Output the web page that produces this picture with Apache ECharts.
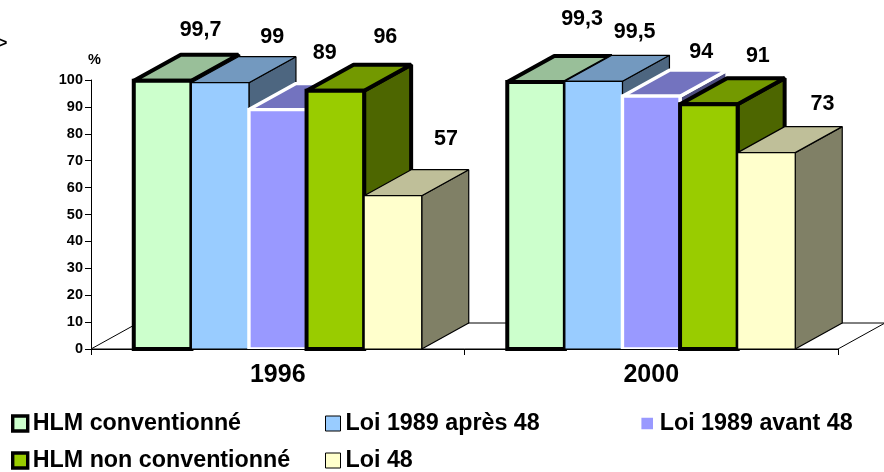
<!DOCTYPE html>
<html>
<head>
<meta charset="utf-8">
<style>html,body{margin:0;padding:0;background:#fff}#c{width:884px;height:472px}</style>
<script src="https://cdn.jsdelivr.net/npm/echarts@6/dist/echarts.min.js"></script>
</head>
<body>
<div id="c"></div>
<script>
const categories = ['1996', '2000'];
const hlmConventionne = [99.7, 99.3];
const loi1989Apres48 = [99, 99.5];
const loi1989Avant48 = [89, 94];
const hlmNonConventionne = [96, 91];
const loi48 = [57, 73];

const seriesStyles = [
  {name: 'HLM conventionné', values: hlmConventionne, front: '#CCFFCC', top: '#99BF99', side: '#668066', stroke: '#000', lw: 4, labelNudge: [[38, -51], [46, -63]]},
  {name: 'Loi 1989 après 48', values: loi1989Apres48, front: '#99CCFF', top: '#7399BF', side: '#4D6680', stroke: '#000', lw: 1.2, labelNudge: [[52, -46], [41, -49]]},
  {name: 'Loi 1989 avant 48', values: loi1989Avant48, front: '#9999FF', top: '#7373BF', side: '#4D4D80', stroke: '#fff', lw: 3.4, labelNudge: [[47, -57], [50, -44]]},
  {name: 'HLM non conventionné', values: hlmNonConventionne, front: '#99CC00', top: '#739900', side: '#4D6600', stroke: '#000', lw: 4, labelNudge: [[50, -54], [49, -48]]},
  {name: 'Loi 48', values: loi48, front: '#FFFFCC', top: '#BFBF99', side: '#808066', stroke: '#000', lw: 1.2, labelNudge: [[53, -57], [56, -49]]}
];

const DX = 47, DY = 26, GROUP_RATIO = 0.771, FONT = '"Liberation Sans", Arial, sans-serif';

function barRenderer(idx, s) {
  return function (params, api) {
    const cat = api.value(0), v = api.value(1);
    const band = api.size([1, 0])[0];
    const barW = band * GROUP_RATIO / seriesStyles.length;
    const c0 = api.coord([cat, 0]), c1 = api.coord([cat, v]);
    const x0 = c0[0] - band * GROUP_RATIO / 2 + idx * barW, x1 = x0 + barW;
    const yb = c0[1], yt = c1[1];
    const style = fill => ({fill, stroke: s.stroke, lineWidth: s.lw, lineJoin: 'bevel'});
    const nudge = s.labelNudge[cat];
    return {
      type: 'group',
      children: [
        {type: 'polygon', shape: {points: [[x1, yb], [x1 + DX, yb - DY], [x1 + DX, yt - DY], [x1, yt]]}, style: style(s.side)},
        {type: 'polygon', shape: {points: [[x0, yt], [x0 + DX, yt - DY], [x1 + DX, yt - DY], [x1, yt]]}, style: style(s.top)},
        {type: 'rect', shape: {x: x0, y: yt, width: barW, height: yb - yt}, style: Object.assign(style(s.front), {lineJoin: 'miter'})},
        {type: 'text', x: (x0 + x1) / 2 + nudge[0], y: yt + nudge[1], style: {
          text: String(v).replace('.', ','), fill: '#000', font: 'bold 21.5px ' + FONT,
          align: 'center', verticalAlign: 'middle'}}
      ]
    };
  };
}

const floorSeries = {
  type: 'custom', name: 'floor', silent: true, z: 1, clip: false, data: [[0, 0]],
  renderItem: function (params, api) {
    const cs = params.coordSys, yb = cs.y + cs.height, xl = cs.x, xr = cs.x + cs.width;
    return {type: 'polygon', shape: {points: [[xl, yb], [xl + DX, yb - DY], [xr + DX, yb - DY], [xr, yb]]},
      style: {fill: '#fff', stroke: '#000', lineWidth: 1}};
  }
};

const barSeries = seriesStyles.map((s, i) => ({
  type: 'custom', name: s.name, z: 2 + i, clip: false,
  itemStyle: {color: s.front, borderColor: s.stroke, borderWidth: s.lw},
  data: s.values.map((v, c) => [c, v]),
  renderItem: barRenderer(i, s)
}));

function legendAt(left, top, i) {
  const s = seriesStyles[i];
  return {left, top, orient: 'horizontal', itemWidth: 15, itemHeight: 15, padding: 0, selectedMode: false,
    textStyle: {fontFamily: FONT, fontWeight: 'bold', fontSize: 23.3, color: '#000', padding: [0, 0, 0, 0]},
    data: [{name: s.name, icon: 'rect', itemStyle: {color: s.front, borderColor: i === 2 ? '#fff' : '#000', borderWidth: s.lw === 1.2 ? 1 : 3.4}}]};
}

const chart = echarts.init(document.getElementById('c'), null, {renderer: 'canvas'});
chart.setOption({
  animation: false,
  backgroundColor: '#fff',
  grid: {left: 91, right: 46, top: 80, bottom: 123, containLabel: false},
  legend: [legendAt(11, 412, 0), legendAt(325, 412, 1), legendAt(638, 412, 2), legendAt(11, 449, 3), legendAt(325, 449, 4)],
  xAxis: {
    type: 'category', data: categories, boundaryGap: true, z: 10,
    axisLine: {show: true, lineStyle: {color: '#000', width: 1}},
    axisTick: {show: true, alignWithLabel: false, length: 6, lineStyle: {color: '#000'}},
    axisLabel: {fontFamily: FONT, fontWeight: 'bold', fontSize: 25, color: '#000', margin: 14}
  },
  yAxis: {
    type: 'value', min: 0, max: 100, interval: 10, name: '%', nameLocation: 'end', nameGap: 13,
    nameTextStyle: {fontFamily: FONT, fontWeight: 'bold', fontSize: 14.5, color: '#000', padding: [0, 0, 0, 7]},
    splitLine: {show: false},
    axisLine: {show: true, lineStyle: {color: '#000', width: 1}},
    axisTick: {show: true, length: 6, lineStyle: {color: '#000'}},
    axisLabel: {fontFamily: FONT, fontWeight: 'bold', fontSize: 14.5, color: '#000', margin: 8}
  },
  graphic: [{type: 'text', left: -2, top: 36, style: {text: '>', fill: '#000', font: 'bold 16px ' + FONT}}],
  series: [floorSeries].concat(barSeries)
});
</script>
</body>
</html>
